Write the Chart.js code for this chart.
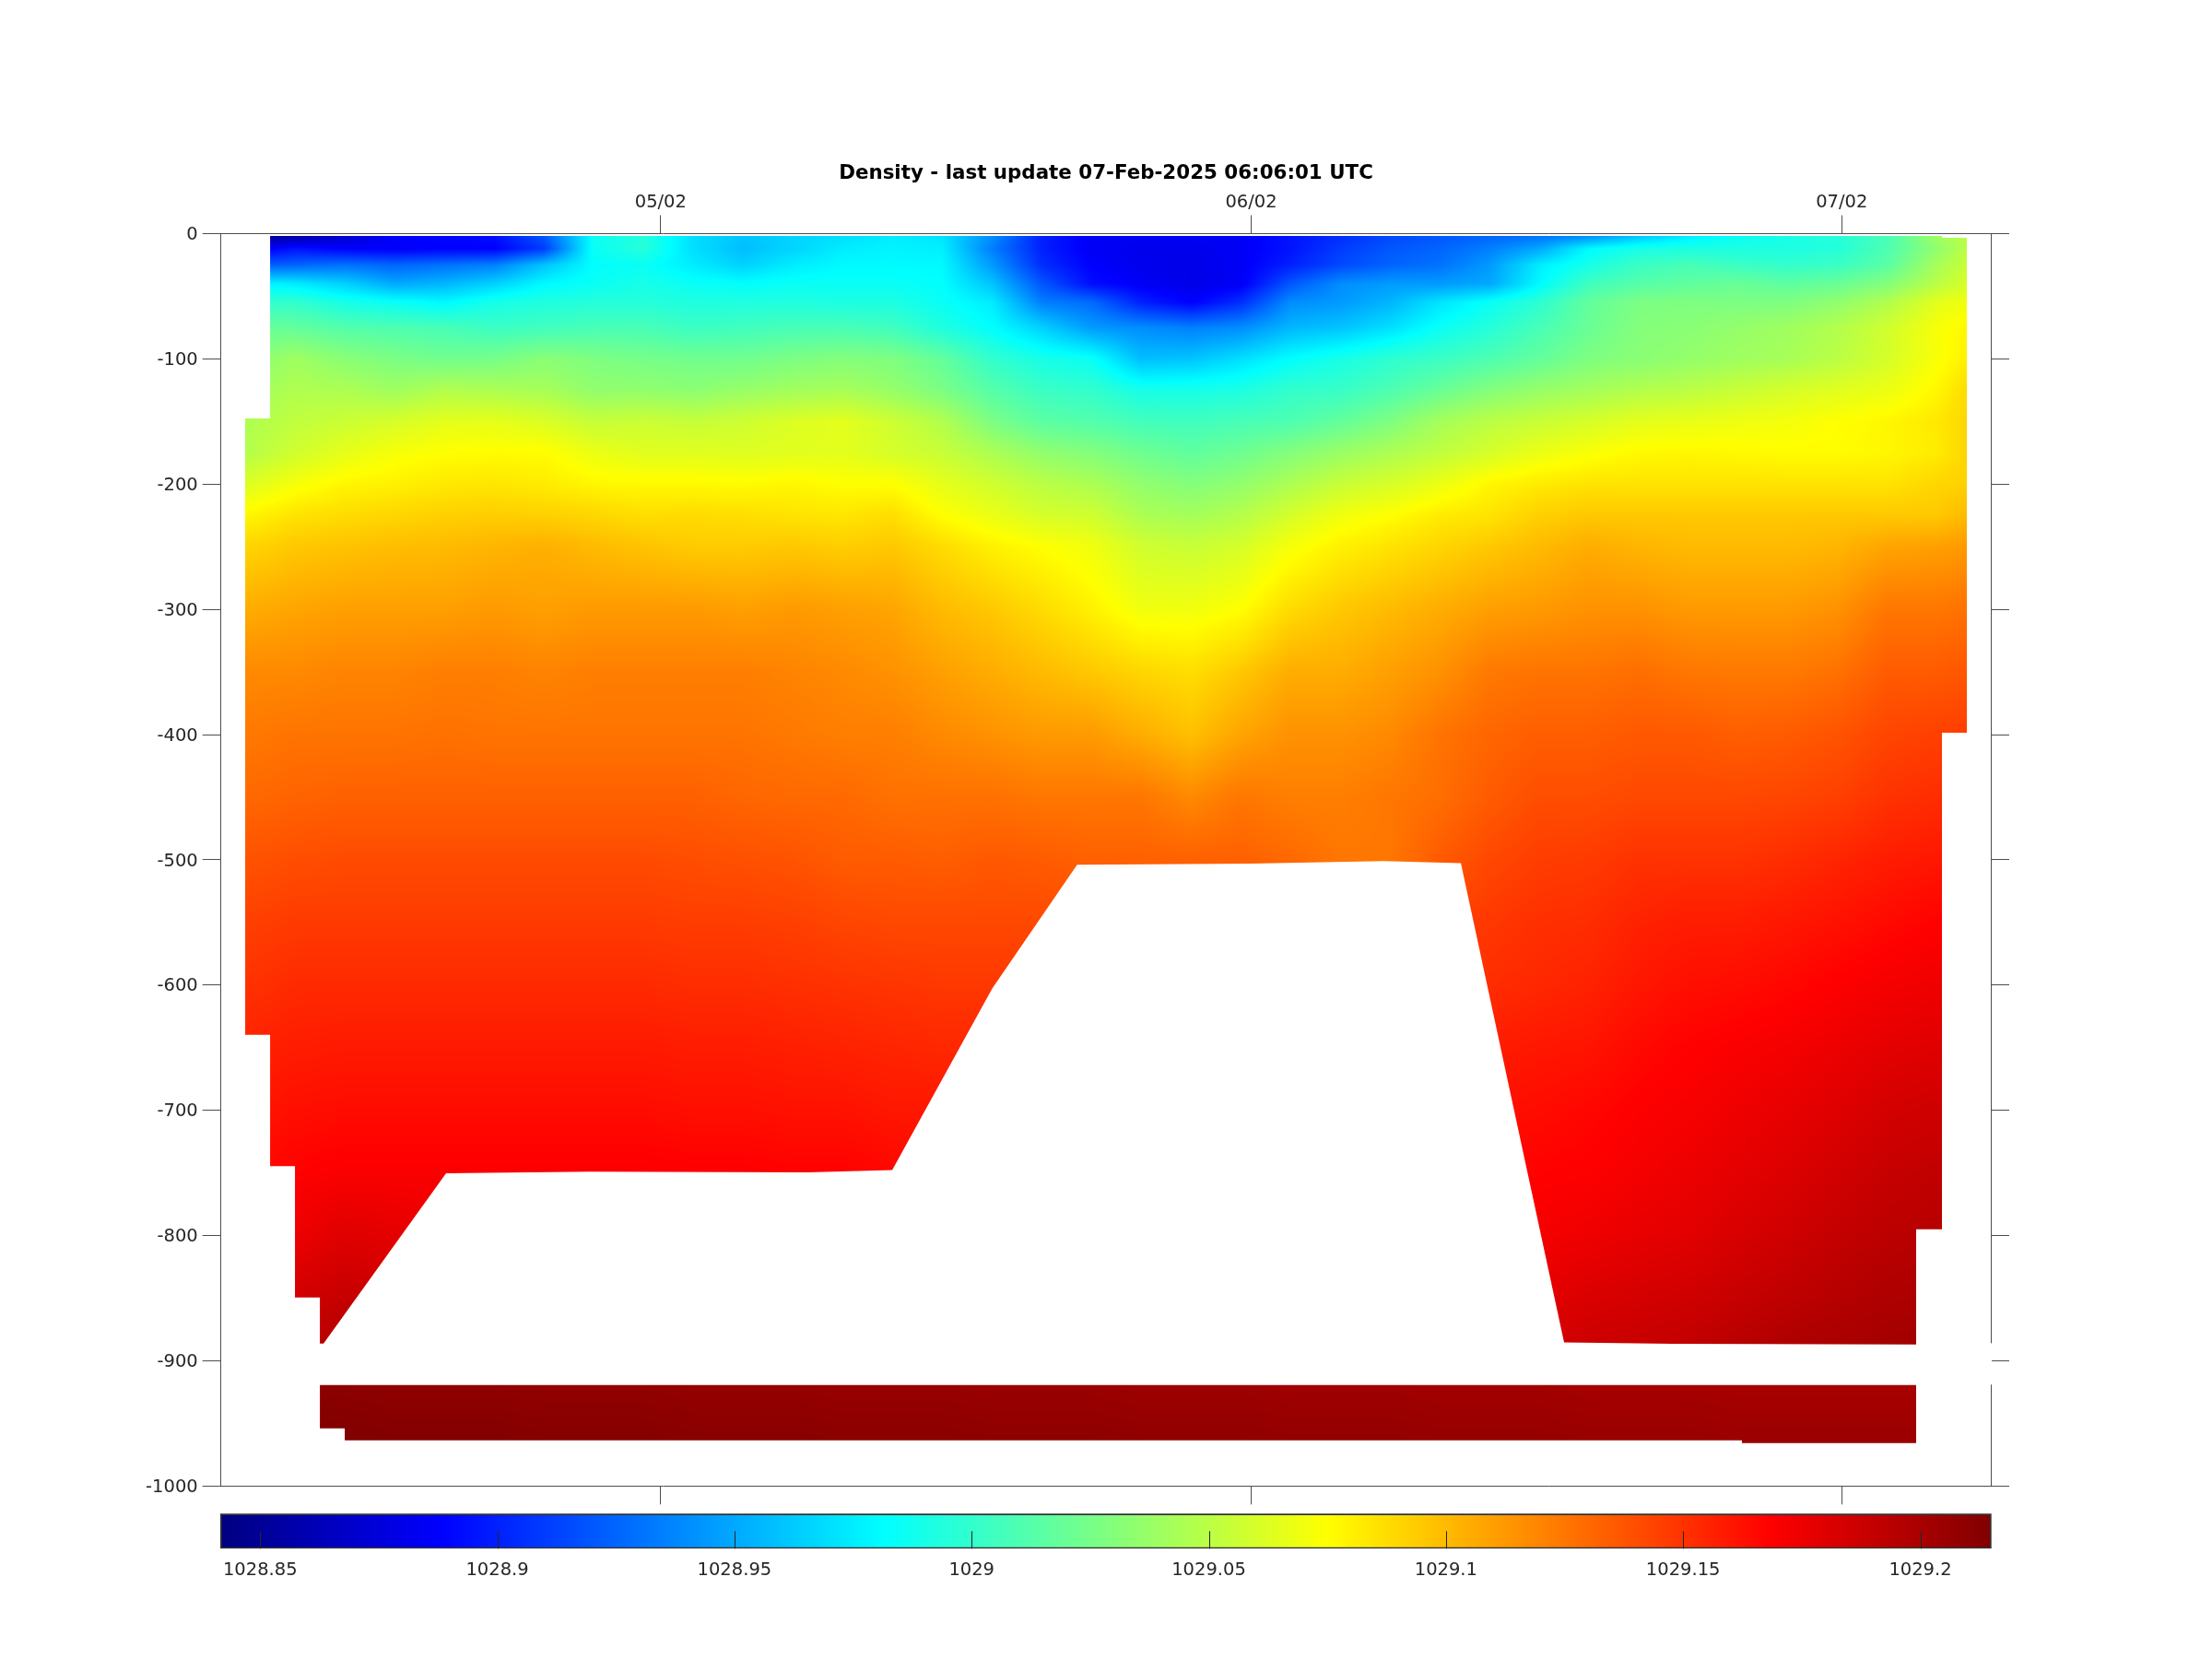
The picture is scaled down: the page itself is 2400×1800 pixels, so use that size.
<!DOCTYPE html>
<html>
<head>
<meta charset="utf-8">
<title>Density</title>
<script src="https://cdn.jsdelivr.net/npm/chart.js@4/dist/chart.umd.min.js"></script>
<style>
  html,body{ margin:0; padding:0; background:#fff; }
  #wrap{ position:relative; width:2400px; height:1800px; }
  canvas{ position:absolute; left:0; }
  #chartDensity{ top:0; }
  #chartColorbar{ top:1630px; }
</style>
</head>
<body>
<div id="wrap">
  <canvas id="chartDensity" width="2400" height="1800"></canvas>
  <canvas id="chartColorbar" width="2400" height="170"></canvas>
</div>
<script>
// ── DATA ──────────────────────────────────────────────
// time in days of Feb 2025, depth in m, density as sigma (rho - 1000)
var titleText = 'Density - last update 07-Feb-2025 06:06:01 UTC';
var dayTicks = [5, 6, 7];
var dayLabels = ['05/02', '06/02', '07/02'];
var depthTicks = [0, -100, -200, -300, -400, -500, -600, -700, -800, -900, -1000];
var colorTicks = [1028.85, 1028.9, 1028.95, 1029, 1029.05, 1029.1, 1029.15, 1029.2];
var colorLabels = ['1028.85', '1028.9', '1028.95', '1029', '1029.05', '1029.1', '1029.15', '1029.2'];
var colorMin = 1028.8416, colorMax = 1029.215;
var dayMin = 4.2553, dayMax = 7.2525;

var times = [4.296,4.381,4.465,4.549,4.634,4.718,4.802,4.886,4.971,5.055,5.139,5.224,5.308,5.392,5.476,5.561,5.645,5.729,5.814,5.898,5.982,6.066,6.151,6.235,6.319,6.404,6.488,6.572,6.656,6.741,6.825,6.909,6.994,7.078,7.162,7.212];
var depths = [-2,-12,-25,-40,-55,-75,-100,-125,-150,-175,-200,-225,-250,-300,-350,-400,-450,-500,-550,-600,-650,-700,-750,-800,-850,-890,-920,-965];

var sigma = [
 [28.845,28.855,28.87,28.888,28.89,28.893,28.92,28.985,28.995,28.97,28.96,28.966,28.97,28.975,28.972,28.94,28.90,28.885,28.885,28.885,28.885,28.895,28.905,28.915,28.92,28.925,28.93,28.94,28.96,28.975,28.985,28.99,28.995,29.008,29.04,29.05],
 [28.88,28.895,28.888,28.886,28.888,28.888,28.91,28.985,28.995,28.97,28.958,28.966,28.975,28.978,28.976,28.935,28.90,28.885,28.882,28.882,28.885,28.895,28.91,28.92,28.925,28.935,28.95,28.98,28.99,28.992,28.992,28.992,28.995,29.01,29.035,29.05],
 [28.92,28.925,28.93,28.925,28.93,28.935,28.96,28.982,28.985,28.975,28.965,28.975,28.98,28.98,28.98,28.945,28.905,28.888,28.882,28.88,28.885,28.90,28.915,28.925,28.93,28.945,28.975,28.99,29.003,29.008,29.003,29.0,29.003,29.015,29.043,29.055],
 [28.98,28.975,28.965,28.95,28.955,28.965,28.98,28.985,28.99,28.985,28.982,28.985,28.985,28.985,28.982,28.96,28.92,28.893,28.885,28.88,28.885,28.92,28.94,28.945,28.945,28.95,28.98,29.005,29.013,29.017,29.02,29.016,29.02,29.03,29.05,29.06],
 [29.0,29.0,28.99,28.985,28.98,28.99,28.993,28.995,28.995,28.993,28.993,28.993,28.992,28.992,28.985,28.975,28.935,28.928,28.90,28.888,28.905,28.94,28.945,28.955,28.972,28.985,28.998,29.018,29.027,29.028,29.027,29.028,29.035,29.047,29.065,29.07],
 [29.02,29.018,29.012,29.01,29.008,29.003,29.005,29.008,29.008,29.003,29.005,29.008,29.008,29.005,28.993,28.982,28.965,28.945,28.94,28.935,28.94,28.955,28.96,28.97,28.985,28.995,29.008,29.02,29.03,29.032,29.036,29.04,29.047,29.058,29.072,29.078],
 [29.03,29.04,29.032,29.027,29.023,29.025,29.032,29.028,29.025,29.023,29.023,29.027,29.03,29.028,29.018,29.0,28.99,28.985,28.958,28.96,28.97,28.982,28.99,28.998,29.003,29.01,29.018,29.028,29.032,29.036,29.04,29.043,29.05,29.06,29.073,29.08],
 [29.04,29.046,29.045,29.04,29.047,29.045,29.043,29.035,29.035,29.033,29.037,29.041,29.043,29.037,29.027,29.013,29.003,29.0,28.99,28.99,28.992,29.0,29.002,29.01,29.02,29.03,29.037,29.042,29.047,29.05,29.055,29.06,29.064,29.068,29.078,29.088],
 [29.045,29.052,29.056,29.06,29.065,29.066,29.062,29.054,29.056,29.054,29.057,29.062,29.065,29.057,29.047,29.027,29.015,29.012,29.006,29.005,29.008,29.01,29.018,29.028,29.042,29.05,29.055,29.06,29.065,29.067,29.069,29.071,29.075,29.078,29.083,29.09],
 [29.047,29.058,29.066,29.072,29.075,29.076,29.076,29.068,29.064,29.064,29.063,29.064,29.065,29.06,29.055,29.045,29.035,29.03,29.022,29.017,29.022,29.03,29.038,29.045,29.052,29.06,29.068,29.073,29.077,29.078,29.077,29.076,29.076,29.078,29.082,29.09],
 [29.062,29.072,29.078,29.08,29.083,29.084,29.082,29.078,29.077,29.077,29.076,29.078,29.075,29.075,29.066,29.058,29.05,29.045,29.035,29.03,29.035,29.045,29.055,29.06,29.068,29.078,29.082,29.085,29.085,29.085,29.085,29.085,29.085,29.085,29.09,29.092],
 [29.078,29.085,29.088,29.09,29.092,29.093,29.092,29.09,29.087,29.088,29.087,29.085,29.084,29.087,29.075,29.068,29.06,29.058,29.045,29.042,29.048,29.06,29.07,29.075,29.082,29.085,29.092,29.095,29.095,29.095,29.095,29.095,29.095,29.095,29.095,29.10],
 [29.09,29.095,29.097,29.099,29.10,29.102,29.104,29.10,29.097,29.094,29.094,29.095,29.093,29.095,29.088,29.08,29.075,29.07,29.058,29.055,29.06,29.072,29.08,29.085,29.09,29.095,29.10,29.105,29.102,29.10,29.10,29.10,29.102,29.108,29.11,29.112],
 [29.105,29.108,29.11,29.11,29.11,29.112,29.11,29.112,29.112,29.112,29.11,29.112,29.11,29.108,29.10,29.095,29.088,29.08,29.07,29.07,29.075,29.088,29.095,29.10,29.105,29.11,29.112,29.115,29.115,29.112,29.112,29.112,29.115,29.125,29.125,29.127],
 [29.118,29.118,29.12,29.12,29.122,29.122,29.12,29.122,29.122,29.122,29.122,29.12,29.118,29.115,29.11,29.105,29.10,29.095,29.09,29.087,29.095,29.105,29.105,29.11,29.115,29.124,29.126,29.126,29.128,29.125,29.124,29.124,29.127,29.135,29.135,29.137],
 [29.124,29.126,29.126,29.126,29.127,29.126,29.126,29.126,29.126,29.126,29.126,29.124,29.122,29.122,29.118,29.115,29.112,29.112,29.105,29.098,29.108,29.115,29.115,29.118,29.126,29.131,29.134,29.134,29.136,29.136,29.134,29.135,29.138,29.143,29.145,29.146],
 [29.13,29.132,29.133,29.133,29.133,29.133,29.133,29.133,29.133,29.133,29.131,29.13,29.13,29.127,29.127,29.127,29.125,29.125,29.125,29.118,29.125,29.122,29.122,29.125,29.128,29.135,29.14,29.14,29.142,29.142,29.142,29.143,29.145,29.15,29.152,29.153],
 [29.138,29.14,29.141,29.141,29.141,29.141,29.141,29.141,29.141,29.14,29.139,29.138,29.135,29.135,29.134,29.136,29.135,29.133,29.133,29.133,29.133,29.13,29.125,29.125,29.135,29.142,29.146,29.147,29.15,29.15,29.15,29.152,29.155,29.158,29.16,29.161],
 [29.145,29.147,29.147,29.147,29.147,29.147,29.147,29.147,29.147,29.146,29.146,29.145,29.143,29.142,29.142,29.142,29.142,29.14,29.14,29.14,29.14,29.14,29.14,29.14,29.145,29.148,29.151,29.152,29.156,29.158,29.158,29.16,29.162,29.165,29.168,29.168],
 [29.15,29.153,29.153,29.153,29.153,29.153,29.153,29.153,29.153,29.152,29.152,29.151,29.15,29.149,29.148,29.148,29.148,29.148,29.148,29.148,29.148,29.148,29.148,29.148,29.15,29.152,29.154,29.156,29.16,29.163,29.164,29.166,29.169,29.172,29.174,29.174],
 [29.156,29.158,29.159,29.159,29.159,29.159,29.159,29.159,29.159,29.158,29.158,29.157,29.156,29.155,29.154,29.154,29.154,29.154,29.154,29.154,29.154,29.154,29.154,29.154,29.156,29.158,29.16,29.161,29.165,29.168,29.17,29.172,29.175,29.178,29.18,29.18],
 [29.16,29.163,29.164,29.164,29.164,29.164,29.164,29.164,29.164,29.163,29.163,29.162,29.162,29.16,29.16,29.16,29.16,29.16,29.16,29.16,29.16,29.16,29.16,29.16,29.161,29.163,29.164,29.166,29.169,29.171,29.174,29.177,29.18,29.184,29.186,29.186],
 [29.165,29.168,29.17,29.17,29.17,29.17,29.17,29.17,29.17,29.169,29.169,29.168,29.168,29.166,29.166,29.166,29.166,29.166,29.166,29.166,29.166,29.166,29.166,29.166,29.166,29.166,29.168,29.169,29.172,29.175,29.178,29.181,29.185,29.189,29.191,29.191],
 [29.172,29.175,29.18,29.178,29.175,29.175,29.175,29.175,29.175,29.175,29.175,29.175,29.175,29.172,29.17,29.17,29.17,29.17,29.17,29.17,29.17,29.17,29.17,29.17,29.17,29.17,29.172,29.174,29.177,29.179,29.183,29.186,29.19,29.193,29.195,29.195],
 [29.18,29.185,29.189,29.187,29.18,29.18,29.18,29.18,29.18,29.18,29.18,29.18,29.18,29.178,29.175,29.175,29.175,29.175,29.175,29.175,29.175,29.175,29.175,29.175,29.175,29.175,29.178,29.182,29.184,29.186,29.189,29.192,29.195,29.198,29.199,29.199],
 [29.19,29.193,29.197,29.197,29.19,29.19,29.19,29.19,29.19,29.19,29.19,29.19,29.19,29.185,29.18,29.18,29.18,29.18,29.18,29.18,29.18,29.18,29.18,29.18,29.18,29.18,29.185,29.187,29.189,29.191,29.195,29.198,29.20,29.202,29.203,29.203],
 [29.21,29.21,29.21,29.209,29.209,29.209,29.208,29.208,29.208,29.207,29.207,29.207,29.206,29.206,29.206,29.205,29.205,29.205,29.204,29.204,29.204,29.203,29.203,29.203,29.202,29.202,29.202,29.201,29.201,29.201,29.20,29.20,29.20,29.20,29.20,29.20],
 [29.215,29.215,29.215,29.214,29.214,29.214,29.213,29.213,29.213,29.212,29.212,29.212,29.211,29.211,29.211,29.21,29.21,29.21,29.209,29.209,29.209,29.208,29.208,29.208,29.207,29.207,29.207,29.206,29.206,29.206,29.205,29.205,29.205,29.205,29.205,29.205]
];

// outlines of the sampled area, time / depth
var upperTimes = [4.3386,7.1698,7.1698,7.2120,7.2120,7.1698,7.1698,7.1261,7.1261,6.7141,6.5299,6.3551,6.2240,5.9992,5.7052,5.5617,5.3921,5.2485,4.8801,4.6366,4.4291,4.4229,4.4229,4.3807,4.3807,4.3386,4.3386,4.2964,4.2964,4.3386];
var upperDepths = [-1.8,-1.8,-3.3,-3.3,-398.5,-398.5,-795,-795,-887,-886.5,-885.4,-502.7,-501,-503,-504,-602.5,-747.8,-749.5,-749,-750.3,-886.2,-886.2,-849.4,-849.4,-744.6,-744.6,-639.7,-639.7,-147.6,-147.6];
var lowerTimes = [4.4229,7.1261,7.1261,6.8311,6.8311,4.4650,4.4650,4.4229];
var lowerDepths = [-919.3,-919.3,-965.7,-965.7,-963.5,-963.5,-953.9,-953.9];

// ── HELPERS ───────────────────────────────────────────
var lineColor = '#4d4d4d';
var textColor = '#262626';

function jet(p){
  function c(v){ return Math.max(0, Math.min(1, v)) * 255; }
  return [c(1.5 - Math.abs(4*p - 3)), c(1.5 - Math.abs(4*p - 2)), c(1.5 - Math.abs(4*p - 1))];
}

function bracket(list, v){
  // index i and fraction so that v lies between list[i] and list[i+1]
  var i = 0;
  while(i < list.length - 2 && ((list[1] > list[0]) ? v > list[i+1] : v < list[i+1])) i++;
  var f = (v - list[i]) / (list[i+1] - list[i]);
  return { i:i, f:Math.max(0, Math.min(1, f)) };
}

function gridPoints(){
  var pts = [];
  depths.forEach(function(d, r){
    times.forEach(function(t, c){ pts.push({ x:t, y:d, v:sigma[r][c] }); });
  });
  return pts;
}

function tracePolygon(ctx, xs, ys, tx, ty){
  ctx.moveTo(xs.getPixelForValue(tx[0]), ys.getPixelForValue(ty[0]));
  for(var i = 1; i < tx.length; i++) ctx.lineTo(xs.getPixelForValue(tx[i]), ys.getPixelForValue(ty[i]));
  ctx.closePath();
}

// paints the section with shaded cells, like pcolor with interpolated shading
var sectionPlugin = {
  id:'section',
  beforeDatasetsDraw:function(chart){
    var xs = chart.scales.x, ys = chart.scales.y, area = chart.chartArea;
    var w = Math.ceil(area.right - area.left), h = Math.ceil(area.bottom - area.top);
    var off = document.createElement('canvas');
    off.width = w; off.height = h;
    var octx = off.getContext('2d');
    var img = octx.createImageData(w, h);
    var colB = [];
    for(var px = 0; px < w; px++) colB.push(bracket(times, xs.getValueForPixel(area.left + px + .5)));
    var n = 0;
    for(var py = 0; py < h; py++){
      var rb = bracket(depths, ys.getValueForPixel(area.top + py + .5));
      var r0 = sigma[rb.i], r1 = sigma[rb.i+1];
      for(var qx = 0; qx < w; qx++){
        var cb = colB[qx];
        var top = r0[cb.i] + (r0[cb.i+1] - r0[cb.i]) * cb.f;
        var bot = r1[cb.i] + (r1[cb.i+1] - r1[cb.i]) * cb.f;
        var rho = 1000 + top + (bot - top) * rb.f;
        var rgb = jet((rho - colorMin) / (colorMax - colorMin));
        img.data[n++] = rgb[0]; img.data[n++] = rgb[1]; img.data[n++] = rgb[2]; img.data[n++] = 255;
      }
    }
    octx.putImageData(img, 0, 0);
    var ctx = chart.ctx;
    ctx.save();
    ctx.beginPath();
    tracePolygon(ctx, xs, ys, upperTimes, upperDepths);
    tracePolygon(ctx, xs, ys, lowerTimes, lowerDepths);
    ctx.clip();
    ctx.drawImage(off, area.left, area.top);
    ctx.restore();
  },
  afterDraw:function(chart){
    // the white band of the figure also cuts the right hand axis line
    var ys = chart.scales.y, ctx = chart.ctx, right = chart.chartArea.right;
    ctx.save();
    ctx.fillStyle = '#fff';
    ctx.fillRect(right - 2, ys.getPixelForValue(-886), 3, ys.getPixelForValue(-919) - ys.getPixelForValue(-886));
    ctx.restore();
  }
};

function axisGrid(){
  return { display:true, drawOnChartArea:false, drawTicks:true, tickLength:20, tickWidth:1, color:lineColor };
}
function axisBorder(){
  return { display:true, color:lineColor, width:1 };
}
function setTicks(list){
  return function(scale){ scale.ticks = list.map(function(v){ return { value:v }; }); };
}

// ── MAIN SECTION ──────────────────────────────────────
new Chart(document.getElementById('chartDensity'), {
  type:'scatter',
  data:{ datasets:[{ label:'Density', data:gridPoints(), pointRadius:0, pointHoverRadius:0 }] },
  plugins:[sectionPlugin],
  options:{
    responsive:false, animation:false, devicePixelRatio:1,
    layout:{ padding:0 },
    plugins:{
      legend:{ display:false }, tooltip:{ enabled:false },
      title:{
        display:true, text:titleText, color:'#000',
        font:{ family:'"DejaVu Sans"', size:21.4, weight:'bold', lineHeight:1.2 },
        padding:{ top:176, bottom:8.4 }
      }
    },
    scales:{
      x:{
        type:'linear', position:'top', min:dayMin, max:dayMax,
        afterBuildTicks:setTicks(dayTicks),
        afterFit:function(s){ s.height = 43.4; },
        grid:axisGrid(), border:axisBorder(),
        ticks:{
          font:{ family:'"DejaVu Sans"', size:19.5 }, color:textColor, padding:2, maxRotation:0, autoSkip:false,
          callback:function(v){ return dayLabels[dayTicks.indexOf(v)]; }
        }
      },
      xBottom:{
        type:'linear', axis:'x', position:'bottom', min:dayMin, max:dayMax,
        afterBuildTicks:setTicks(dayTicks),
        afterFit:function(s){ s.height = 187.7; },
        grid:axisGrid(), border:axisBorder(),
        ticks:{ display:false }
      },
      y:{
        type:'linear', position:'left', min:-1000, max:0,
        afterBuildTicks:setTicks(depthTicks),
        afterFit:function(s){ s.width = 239.7; },
        grid:axisGrid(), border:axisBorder(),
        ticks:{
          font:{ family:'"DejaVu Sans"', size:19.5, lineHeight:.16 }, color:textColor, padding:5, autoSkip:false,
          // empty first line nudges the label down a little, to sit on the tick as in the original
          callback:function(v){ return ['', String(v)]; }
        }
      },
      yRight:{
        type:'linear', axis:'y', position:'right', min:-1000, max:0,
        afterBuildTicks:setTicks(depthTicks),
        afterFit:function(s){ s.width = 240; },
        grid:axisGrid(), border:axisBorder(),
        ticks:{ display:false }
      }
    }
  }
});

// ── COLOUR BAR ────────────────────────────────────────
function jetGradient(chart){
  var a = chart.chartArea;
  if(!a) return '#000';
  var g = chart.ctx.createLinearGradient(a.left, 0, a.right, 0);
  [0, .125, .375, .625, .875, 1].forEach(function(p){
    var c = jet(p);
    g.addColorStop(p, 'rgb(' + Math.round(c[0]) + ',' + Math.round(c[1]) + ',' + Math.round(c[2]) + ')');
  });
  return g;
}

var colorTickPlugin = {
  id:'colorTicks',
  afterDatasetsDraw:function(chart){
    var xs = chart.scales.x, a = chart.chartArea, ctx = chart.ctx;
    ctx.save();
    ctx.strokeStyle = '#262626';
    ctx.lineWidth = 1;
    colorTicks.forEach(function(v){
      var px = Math.round(xs.getPixelForValue(v)) + .5;
      ctx.beginPath();
      ctx.moveTo(px, a.bottom);
      ctx.lineTo(px, a.bottom - 19);
      ctx.stroke();
    });
    ctx.restore();
  }
};

new Chart(document.getElementById('chartColorbar'), {
  type:'bar',
  data:{
    labels:['Density'],
    datasets:[{
      data:[[colorMin, colorMax]],
      backgroundColor:function(c){ return jetGradient(c.chart); },
      borderColor:'#333', borderWidth:2, borderSkipped:false,
      barPercentage:1, categoryPercentage:1
    }]
  },
  plugins:[colorTickPlugin],
  options:{
    indexAxis:'y', responsive:false, animation:false, devicePixelRatio:1,
    layout:{ padding:{ left:239, right:239.3, top:12.3, bottom:0 } },
    plugins:{ legend:{ display:false }, tooltip:{ enabled:false } },
    scales:{
      x:{
        type:'linear', min:colorMin, max:colorMax,
        afterBuildTicks:setTicks(colorTicks),
        afterFit:function(s){ s.height = 119.7; },
        grid:{ display:false }, border:{ display:false },
        ticks:{
          font:{ family:'"DejaVu Sans"', size:19.5 }, color:textColor, padding:4, maxRotation:0, autoSkip:false,
          callback:function(v){ return colorLabels[colorTicks.indexOf(v)]; }
        }
      },
      y:{ display:false }
    }
  }
});
</script>
</body>
</html>
